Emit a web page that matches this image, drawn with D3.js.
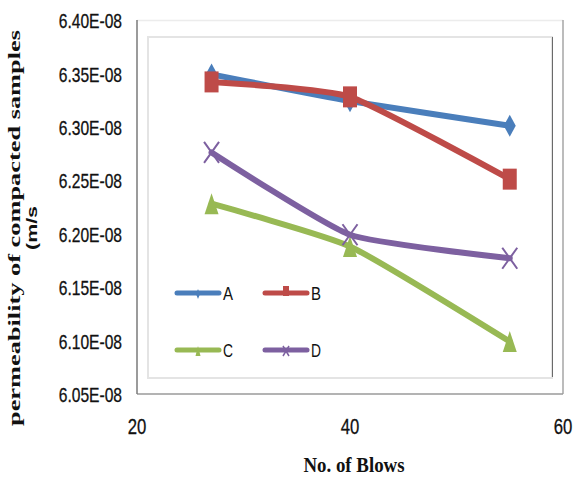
<!DOCTYPE html>
<html>
<head>
<meta charset="utf-8">
<script src="https://cdn.jsdelivr.net/npm/d3@7"></script>
<style>
  html, body { margin: 0; padding: 0; background: #fff; }
  svg { display: block; }
</style>
</head>
<body>
<svg id="chart" width="574" height="477"></svg>
<script>
// Number of blows used for each compaction test
const blows = [27, 40, 55];

// Permeability (m/s) of the compacted samples, one array per mix
const seriesNames = ["A", "B", "C", "D"];
const valuesA = [6.350e-8, 6.325e-8, 6.302e-8];
const valuesB = [6.343e-8, 6.329e-8, 6.252e-8];
const valuesC = [6.229e-8, 6.189e-8, 6.100e-8];
const valuesD = [6.277e-8, 6.200e-8, 6.178e-8];

// Axis ticks
const xTicks = [20, 40, 60];
const yTicks = [6.05e-8, 6.10e-8, 6.15e-8, 6.20e-8, 6.25e-8, 6.30e-8, 6.35e-8, 6.40e-8];
const yTickLabels = ["6.05E-08", "6.10E-08", "6.15E-08", "6.20E-08", "6.25E-08", "6.30E-08", "6.35E-08", "6.40E-08"];

const colors = { A: "#4a7ebb", B: "#be4b48", C: "#98b954", D: "#7d60a0" };
const seriesValues = { A: valuesA, B: valuesB, C: valuesC, D: valuesD };

const svg = d3.select("#chart");

const x = d3.scaleLinear().domain([20, 60]).range([137, 563]);
const y = d3.scaleLinear().domain([6.05e-8, 6.40e-8]).range([395, 21]);

// Outer chart frame
svg.append("line").attr("x1", 137).attr("x2", 563).attr("y1", 20.5).attr("y2", 20.5)
  .attr("stroke", "#ececec").attr("stroke-width", 1.5);
svg.append("line").attr("x1", 563).attr("x2", 563).attr("y1", 20).attr("y2", 394)
  .attr("stroke", "#a6a6a6").attr("stroke-width", 1.5);
svg.append("line").attr("x1", 137).attr("x2", 563).attr("y1", 394).attr("y2", 394)
  .attr("stroke", "#9a9a9a").attr("stroke-width", 1.5);

// Inner plot-area border
svg.append("rect").attr("x", 148).attr("y", 37).attr("width", 404).attr("height", 341)
  .attr("fill", "none").attr("stroke", "#e4e4e4").attr("stroke-width", 2);
svg.append("line").attr("x1", 552.5).attr("x2", 552.5).attr("y1", 37).attr("y2", 377)
  .attr("stroke", "#6a6a6a").attr("stroke-width", 1);

// Y axis line
svg.append("line").attr("x1", 137).attr("x2", 137).attr("y1", 20).attr("y2", 394)
  .attr("stroke", "#7a7a7a").attr("stroke-width", 1.5);

// Y tick labels (condensed sans)
const yAxis = d3.axisLeft(y).tickValues(yTicks).tickSize(0).tickPadding(0)
  .tickFormat((d, i) => yTickLabels[i]);
const gy = svg.append("g").attr("transform", "translate(122,0)").call(yAxis);
gy.select(".domain").remove();
gy.selectAll("text")
  .attr("x", null).attr("dy", null)
  .attr("font-family", "Liberation Sans, Arial, sans-serif")
  .attr("font-size", 20).attr("fill", "#111")
  .attr("stroke", "#111").attr("stroke-width", 0.3)
  .attr("text-anchor", "end")
  .attr("dominant-baseline", "central")
  .attr("transform", "scale(0.78,1)");

// X tick labels
const xAxis = d3.axisBottom(x).tickValues(xTicks).tickSize(0).tickPadding(0)
  .tickFormat(d3.format("d"));
const gx = svg.append("g").attr("transform", "translate(0,434)").call(xAxis);
gx.select(".domain").remove();
gx.selectAll("text")
  .attr("y", null).attr("dy", null)
  .attr("font-family", "Liberation Sans, Arial, sans-serif")
  .attr("font-size", 22).attr("fill", "#111")
  .attr("stroke", "#111").attr("stroke-width", 0.3)
  .attr("text-anchor", "middle")
  .attr("transform", "scale(0.76,1)");
gx.selectAll(".tick").each(function (d) {
  d3.select(this).attr("transform", `translate(${x(d)},0)`);
});

// Axis titles
svg.append("text")
  .attr("x", 354).attr("y", 472)
  .attr("text-anchor", "middle")
  .attr("font-family", "Liberation Serif, 'Times New Roman', serif")
  .attr("font-weight", "bold").attr("font-size", 21).attr("fill", "#111")
  .attr("textLength", 101).attr("lengthAdjust", "spacingAndGlyphs")
  .text("No. of Blows");

svg.append("text")
  .attr("transform", "translate(20,228) rotate(-90)")
  .attr("text-anchor", "middle")
  .attr("font-family", "Liberation Serif, 'Times New Roman', serif")
  .attr("font-weight", "bold").attr("font-size", 17).attr("fill", "#111")
  .attr("textLength", 396).attr("lengthAdjust", "spacingAndGlyphs")
  .text("permeability of  compacted samples");

svg.append("text")
  .attr("transform", "translate(37,228) rotate(-90)")
  .attr("text-anchor", "middle")
  .attr("font-family", "Liberation Sans, Arial, sans-serif")
  .attr("font-weight", "bold").attr("font-size", 15).attr("fill", "#111")
  .attr("textLength", 44).attr("lengthAdjust", "spacingAndGlyphs")
  .text("(m/s");

// Marker shapes (wide x tall, centred on the point)
function markerPath(name, w, h) {
  const hw = w / 2, hh = h / 2;
  const p = d3.path();
  if (name === "A") {
    p.moveTo(0, -hh); p.lineTo(hw, 0); p.lineTo(0, hh); p.lineTo(-hw, 0); p.closePath();
  } else if (name === "B") {
    p.rect(-hw, -hh, w, h);
  } else if (name === "C") {
    p.moveTo(0, -hh); p.lineTo(hw, hh); p.lineTo(-hw, hh); p.closePath();
  } else {
    p.moveTo(-hw, -hh); p.lineTo(hw, hh);
    p.moveTo(hw, -hh); p.lineTo(-hw, hh);
  }
  return p.toString();
}
const markerSize = { A: [12, 22], B: [14, 21], C: [14, 21], D: [15, 21] };

const line = d3.line()
  .x((d, i) => x(blows[i]))
  .y(d => y(d))
  .curve(d3.curveCardinal.tension(0.5));

const plot = svg.append("g");
seriesNames.forEach(name => {
  const vals = seriesValues[name];
  const g = plot.append("g");
  g.append("path")
    .attr("d", line(vals))
    .attr("fill", "none")
    .attr("stroke", colors[name])
    .attr("stroke-width", 6)
    .attr("stroke-linejoin", "round")
    .attr("stroke-linecap", "round");
  const [mw, mh] = markerSize[name];
  g.selectAll("path.marker").data(vals).join("path")
    .attr("class", "marker")
    .attr("transform", (d, i) => `translate(${x(blows[i])},${y(d)})`)
    .attr("d", markerPath(name, mw, mh))
    .attr("fill", name === "D" ? "none" : colors[name])
    .attr("stroke", colors[name])
    .attr("stroke-width", name === "D" ? 2 : 0);
});

// Legend
const legendItems = [
  { name: "A", x: 177, y: 293 },
  { name: "B", x: 265, y: 293 },
  { name: "C", x: 177, y: 350 },
  { name: "D", x: 265, y: 350 }
];
const lg = svg.append("g");
legendItems.forEach(it => {
  const g = lg.append("g").attr("transform", `translate(${it.x},${it.y})`);
  g.append("line").attr("x1", 0).attr("x2", 42).attr("y1", 0).attr("y2", 0)
    .attr("stroke", colors[it.name]).attr("stroke-width", 5).attr("stroke-linecap", "round");
  const small = { A: [4, 10], B: [6, 10], C: [5, 10], D: [6, 10] }[it.name];
  g.append("path")
    .attr("transform", it.name === "B" ? "translate(21,-2)" : "translate(21,1)")
    .attr("d", markerPath(it.name, small[0], small[1]))
    .attr("fill", it.name === "D" ? "none" : colors[it.name])
    .attr("stroke", colors[it.name])
    .attr("stroke-width", it.name === "D" ? 1.5 : 0);
  g.append("text")
    .attr("x", 46).attr("y", 7)
    .attr("font-family", "Liberation Sans, Arial, sans-serif")
    .attr("font-size", 19).attr("fill", "#111")
    .attr("textLength", 10).attr("lengthAdjust", "spacingAndGlyphs")
    .text(it.name);
});
</script>
</body>
</html>
